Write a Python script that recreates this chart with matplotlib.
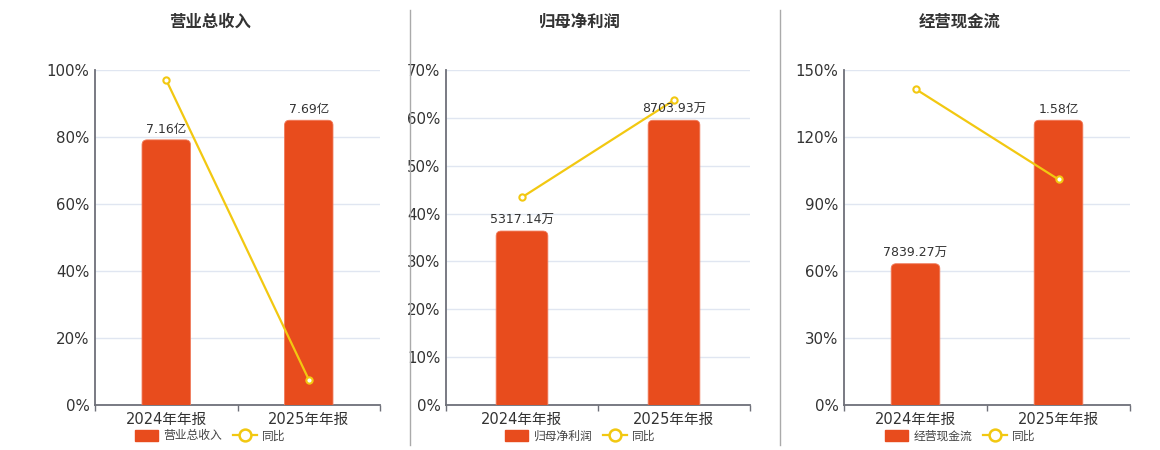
import matplotlib
matplotlib.use("Agg")
import matplotlib.pyplot as plt
from matplotlib.patches import FancyBboxPatch
from matplotlib.lines import Line2D
from matplotlib.ticker import FuncFormatter

plt.rcParams['font.family'] = ['DejaVu Sans', 'Noto Sans CJK SC']

categories = ["2024年年报", "2025年年报"]

titles = ["营业总收入", "归母净利润", "经营现金流"]

# bar values (in 万元)
revenue = [71600, 76900]
net_profit = [5317.14, 8703.93]
cash_flow = [7839.27, 15800]
bar_values = [revenue, net_profit, cash_flow]

bar_labels = [["7.16亿", "7.69亿"],
              ["5317.14万", "8703.93万"],
              ["7839.27万", "1.58亿"]]

# YoY (%)
yoy_revenue = [97.0, 7.6]
yoy_profit = [43.4, 63.7]
yoy_cash = [141.5, 101.0]
yoy_values = [yoy_revenue, yoy_profit, yoy_cash]

y_max = [100, 70, 150]
y_step = [20, 10, 30]

BAR_COLOR = "#e84c1d"
LINE_COLOR = "#f2c811"
AXIS_COLOR = "#6e7079"
GRID_COLOR = "#e0e6f1"
TEXT_COLOR = "#333333"

W, H = 1160, 450
fig = plt.figure(figsize=(W / 100, H / 100), dpi=100)

# axes rectangles in pixels: (left, right)
ax_px = [(95, 380), (446, 750), (844, 1130)]
center_px = [210, 580, 960]
top_px, bottom_px = 70, 405

for i in range(3):
    l, r = ax_px[i]
    rect = [l / W, 1 - bottom_px / H, (r - l) / W, (bottom_px - top_px) / H]
    ax = fig.add_axes(rect)
    ax.set_xlim(-0.5, 1.5)
    ax.set_ylim(0, y_max[i])
    ticks = list(range(0, y_max[i] + 1, y_step[i]))
    ax.set_yticks(ticks)
    ax.yaxis.set_major_formatter(FuncFormatter(lambda v, p: f"{v:.0f}%"))
    ax.grid(axis='y', color=GRID_COLOR, linewidth=1)
    ax.set_axisbelow(True)
    for s in ['top', 'right']:
        ax.spines[s].set_visible(False)
    for s in ['left', 'bottom']:
        ax.spines[s].set_color(AXIS_COLOR)
        ax.spines[s].set_linewidth(1.3)
    ax.tick_params(axis='y', length=0, pad=4, labelsize=10.8, labelcolor=TEXT_COLOR)
    ax.set_xticks([0, 1])
    ax.set_xticklabels(categories)
    ax.set_xticks([-0.5, 0.5, 1.5], minor=True)
    ax.tick_params(axis='x', which='major', length=0, pad=5, labelsize=10.5, labelcolor=TEXT_COLOR)
    ax.tick_params(axis='x', which='minor', length=4, color=AXIS_COLOR, width=1)

    # bars on hidden axis
    ax2 = fig.add_axes(rect, sharex=ax)
    ax2.set_ylim(0, max(bar_values[i]) / 0.85)
    ax2.axis('off')
    bw = 0.34
    bars = ax2.bar([0, 1], bar_values[i], width=bw, color=BAR_COLOR)
    xu = 2.0 / (r - l)
    yu = (max(bar_values[i]) / 0.85) / (bottom_px - top_px)
    for b in bars:
        b.set_visible(False)
        x0, w, h = b.get_x(), b.get_width(), b.get_height()
        fb = FancyBboxPatch((x0, -10 * yu), w, h + 10 * yu,
                            boxstyle=f"round,pad=0,rounding_size={5 * xu}",
                            mutation_aspect=yu / xu,
                            facecolor=BAR_COLOR, edgecolor="#f07a5a", linewidth=0.6)
        ax2.add_patch(fb)

    # line on top
    ax3 = fig.add_axes(rect, sharex=ax, sharey=ax)
    ax3.axis('off')
    ax3.plot([0, 1], yoy_values[i], color=LINE_COLOR, linewidth=1.6,
             marker='o', markersize=4.5, markerfacecolor='white',
             markeredgecolor=LINE_COLOR, markeredgewidth=1.5, clip_on=False)
    for j in range(2):
        ax3.annotate(bar_labels[i][j], xy=(j, bar_values[i][j]), xycoords=ax2.transData,
                     xytext=(0, 3), textcoords='offset points', ha='center', va='bottom',
                     fontsize=9, color=TEXT_COLOR)

    # title
    fig.text(center_px[i] / W, 1 - 22 / H, titles[i], ha='center', va='center',
             fontsize=11.8, fontweight='bold', color=TEXT_COLOR)

    # legend
    handles = [
        FancyBboxPatch((0, 0), 1, 1, boxstyle="round,pad=0,rounding_size=0.2",
                       facecolor=BAR_COLOR, edgecolor=BAR_COLOR),
        Line2D([0], [0], color=LINE_COLOR, linewidth=1.6, marker='o', markersize=8.5,
               markerfacecolor='white', markeredgecolor=LINE_COLOR, markeredgewidth=1.8),
    ]
    leg = fig.legend(handles, [titles[i], "同比"], loc='center',
                     bbox_to_anchor=(center_px[i] / W, 1 - 436 / H), ncol=2,
                     frameon=False, fontsize=8.5, handlelength=2.0, handleheight=1.0,
                     handletextpad=0.45, columnspacing=0.9, borderpad=0)
    for t in leg.get_texts():
        t.set_color("#444444")

# separators
for xs in [410, 780]:
    fig.add_artist(Line2D([xs / W, xs / W], [1 - 10 / H, 1 - 445 / H],
                          color="#aaaaaa", linewidth=1))

fig.savefig("out.png", dpi=100)
